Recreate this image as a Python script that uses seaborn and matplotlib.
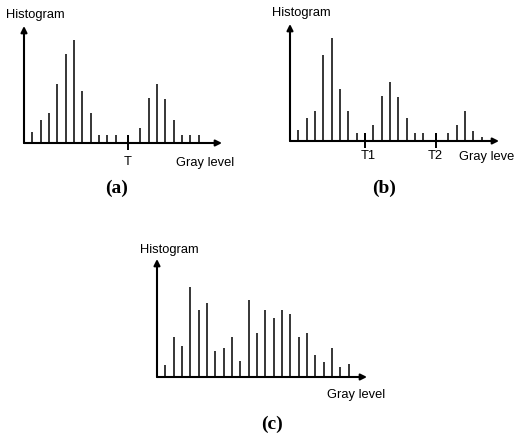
import matplotlib
matplotlib.use("Agg")
import matplotlib.pyplot as plt
import seaborn as sns
import pandas as pd

sns.set_theme(style="white")
plt.rcParams['font.family'] = ['Liberation Sans', 'DejaVu Sans']

# ---- data (gray level index, histogram height in arbitrary units) ----
a_levels = [1, 2, 3, 4, 5, 6, 7, 8, 9, 10, 11, 12.5, 14, 15, 16, 17, 18, 19, 20, 21]
a_counts = [34, 69, 90, 179, 267, 310, 156, 90, 24, 24, 24, 24, 45, 134, 177, 132, 68, 24, 24, 24]
a_thresholds = [12.5]
a_threshold_labels = ["T"]

b_levels = [1, 2, 3, 4, 5, 6, 7, 8, 9, 10, 11, 12, 13, 14, 15, 16, 17.5, 19, 20, 21, 22, 23]
b_counts = [32, 68, 90, 260, 310, 155, 89, 23, 25, 47, 134, 179, 133, 68, 25, 23, 23, 23, 47, 90, 29, 13]
b_thresholds = [9, 17.5]
b_threshold_labels = ["T1", "T2"]

c_levels = list(range(1, 24))
c_counts = [35, 120, 92, 268, 200, 221, 77, 88, 120, 47, 230, 132, 199, 175, 200, 188, 120, 131, 65, 45, 88, 29, 40]

W, H = 515, 439
fig = plt.figure(figsize=(W / 100, H / 100), dpi=100)
fig.patch.set_facecolor("white")


def px_axes(left, right, bottom, top):
    return fig.add_axes([left / W, 1 - bottom / H, (right - left) / W, (bottom - top) / H])


def draw_panel(ax, levels, counts, xmax, thresholds=()):
    df = pd.DataFrame({"level": levels, "count": counts})
    ax.vlines(df["level"], 0, df["count"], color="black", lw=1.1)
    for t in thresholds:
        ax.vlines([t], -22, 24, color="black", lw=1.4, clip_on=False)
    ax.set_xlim(0, xmax)
    ax.set_ylim(0, 352)
    ax.annotate("", xy=(xmax, 0), xytext=(0, 0),
                arrowprops=dict(arrowstyle="-|>", lw=1.5, color="black",
                                shrinkA=0, shrinkB=0, mutation_scale=9),
                annotation_clip=False)
    ax.annotate("", xy=(0, 352), xytext=(0, 0),
                arrowprops=dict(arrowstyle="-|>", lw=1.5, color="black",
                                shrinkA=0, shrinkB=0, mutation_scale=9),
                annotation_clip=False)
    ax.set_xticks([])
    ax.set_yticks([])
    sns.despine(ax=ax, left=True, bottom=True)
    ax.patch.set_alpha(0)


ax_a = px_axes(24, 222, 144, 27)
draw_panel(ax_a, a_levels, a_counts, 23.8, a_thresholds)
ax_b = px_axes(290, 499, 142, 25)
draw_panel(ax_b, b_levels, b_counts, 25.1, b_thresholds)
ax_c = px_axes(157, 367, 378, 260)
draw_panel(ax_c, c_levels, c_counts, 25.2)


def ftext(x, y, s, **kw):
    fig.text(x / W, 1 - y / H, s, **kw)


sans = dict(fontsize=9.3, color="black", va="center")
ftext(35, 15, "Histogram", ha="center", **sans)
ftext(301, 13, "Histogram", ha="center", **sans)
ftext(169, 250, "Histogram", ha="center", **sans)

ftext(128, 162, a_threshold_labels[0], ha="center", **sans)
ftext(368, 156, b_threshold_labels[0], ha="center", **sans)
ftext(435, 156, b_threshold_labels[1], ha="center", **sans)

ftext(176, 163, "Gray level", ha="left", **sans)
ftext(459, 157, "Gray level", ha="left", **sans)
ftext(327, 395, "Gray level", ha="left", **sans)

serif = dict(fontsize=14, fontweight="bold", family="Liberation Serif",
             color="black", ha="center", va="center")
ftext(117, 188, "(a)", **serif)
ftext(384, 188, "(b)", **serif)
ftext(272, 424, "(c)", **serif)

fig.savefig("out.png", dpi=100, facecolor="white")
